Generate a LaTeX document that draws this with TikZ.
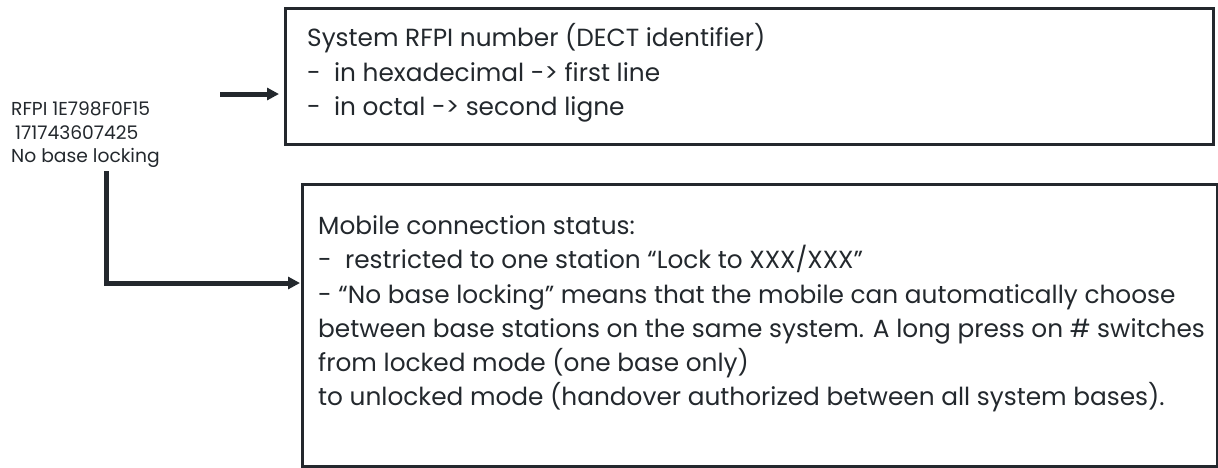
\documentclass[tikz,border=0pt]{standalone}
\usepackage{fontspec}
\setmainfont{Poppins}
\usetikzlibrary{arrows.meta}
\definecolor{ink}{RGB}{35,40,45}
\tikzset{
  infobox/.style={draw=ink, line width=2.5pt, rectangle, inner sep=0pt, anchor=north west},
  boxtext/.style={anchor=north west, align=left, inner sep=0pt, text=ink, font=\fontsize{24.8}{34.2}\selectfont},
  sidetext/.style={anchor=north west, align=left, inner sep=0pt, text=ink, font=\fontsize{18.7}{23.5}\selectfont},
  thickarrow/.style={draw=ink, line width=5pt, line join=miter, -{Triangle[length=12pt,width=12pt]}}
}
\begin{document}
\begin{tikzpicture}[x=1pt,y=-1pt]
\useasboundingbox (0,0) rectangle (1218,467);
\node[infobox, minimum width=928pt, minimum height=136pt] (b1) at (284,7) {};
\node[infobox, minimum width=915pt, minimum height=282pt] (b2) at (301,183) {};
\node[boxtext] (t1) at (307,23.5) {System RFPI number (DECT identifier)\\
-\ \ in hexadecimal -> first line\\
-\ \ in octal -> second ligne};
\node[boxtext] (t2) at (318,215.6) {Mobile connection status:\\
-\ \ restricted to one station “Lock to XXX/XXX”\\
- “No base locking” means that the mobile can automatically choose\\
between base stations on the same system. A long press on \# switches\\
from locked mode (one base only)\\
to unlocked mode (handover authorized between all system bases).};
\node[sidetext] (lt) at (11,102) {RFPI 1E798F0F15\\\hspace*{4pt}171743607425\\No base locking};
\coordinate (a1) at (220,94);
\draw[thickarrow, shorten >=5pt] (a1) -- (a1 -| b1.west);
\coordinate (c1) at (106,171);
\coordinate (c2) at (106,283);
\draw[thickarrow, shorten >=1pt] (c1) -- (c2) -- (c2 -| b2.west);
\end{tikzpicture}
\end{document}
